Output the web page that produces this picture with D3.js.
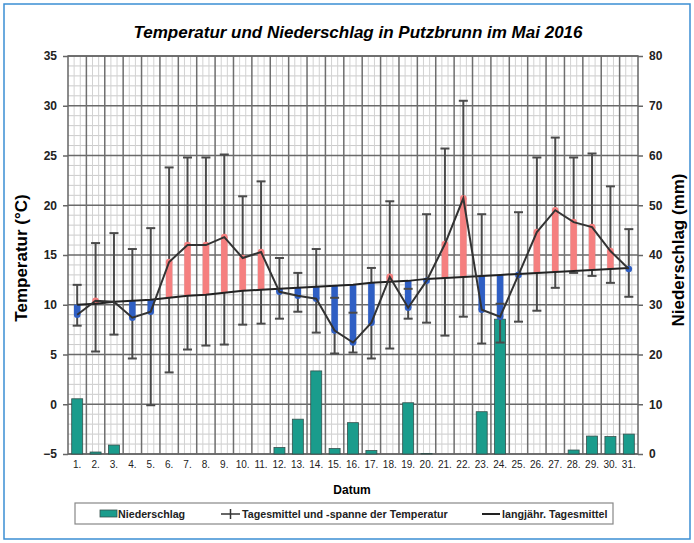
<!DOCTYPE html>
<html>
<head>
<meta charset="utf-8">
<script src="https://cdn.jsdelivr.net/npm/d3@7"></script>
<style>
  body { margin: 0; background: #fff; }
  svg { display: block; font-family: 'Liberation Sans', Arial, sans-serif; }
</style>
</head>
<body>
<svg id="chart" width="694" height="543"></svg>
<script>
// values
const days = d3.range(1, 32);
const tMean = [9.0, 10.4, 10.3, 8.7, 9.3, 14.3, 16.0, 16.0, 16.8, 14.7, 15.3, 11.3, 10.9, 10.6, 7.4, 6.2,
  8.2, 12.8, 9.7, 12.4, 16.1, 20.7, 9.5, 8.8, 13.0, 17.3, 19.5, 18.3, 17.8, 15.4, 13.6];
const tMax = [12.0, 16.2, 17.2, 15.6, 17.7, 23.8, 24.8, 24.8, 25.1, 20.9, 22.4, 14.7, 13.2, 15.6, 10.7, 9.2,
  13.7, 20.4, 11.6, 19.1, 25.7, 30.5, 19.1, 10.1, 19.3, 24.8, 26.8, 24.8, 25.2, 21.9, 17.6];
const tMin = [7.9, 5.3, 7.0, 4.6, -0.1, 3.2, 5.5, 5.9, 6.0, 8.0, 8.1, 8.6, 9.3, 7.2, 5.1, 5.2,
  4.6, 5.6, 8.6, 8.2, 6.9, 8.8, 6.1, 6.2, 8.3, 9.4, 11.7, 13.2, 12.9, 12.2, 10.8];
const tLongTerm = [10.0, 10.1, 10.3, 10.4, 10.5, 10.7, 10.9, 11.0, 11.2, 11.4, 11.5, 11.6, 11.7, 11.8, 11.9, 12.0,
  12.2, 12.3, 12.4, 12.6, 12.7, 12.8, 12.9, 13.0, 13.1, 13.2, 13.3, 13.4, 13.5, 13.6, 13.7];
const rain = [11.1, 0.4, 1.8, 0, 0, 0, 0, 0, 0, 0, 0, 1.3, 7.0, 16.7, 1.1, 6.3,
  0.7, 0, 10.3, 0.1, 0, 0, 8.5, 27.1, 0, 0, 0, 0.8, 3.6, 3.5, 4.0];
const tempTicks = [-5, 0, 5, 10, 15, 20, 25, 30, 35];
const rainTicks = [0, 10, 20, 30, 40, 50, 60, 70, 80];

const rows = days.map((d, i) => ({
  day: d, mean: tMean[i], max: tMax[i], min: tMin[i], lt: tLongTerm[i], rain: rain[i]
}));

const svg = d3.select('#chart');
const pLeft = 68, pRight = 638, pTop = 56, pBottom = 454;

const x = d3.scaleBand().domain(days).range([pLeft, pRight]);
const yT = d3.scaleLinear().domain([-5, 35]).range([pBottom, pTop]);
const yR = d3.scaleLinear().domain([0, 80]).range([pBottom, pTop]);
const bw = x.bandwidth();
const cx = d => x(d) + bw / 2;
const devColor = d => d.mean > d.lt ? '#f57f7f' : '#2f5fc4';

// outer frame
svg.append('rect').attr('x', 4).attr('y', 4).attr('width', 686).attr('height', 535)
  .attr('fill', '#fff').attr('stroke', '#3b8ed3').attr('stroke-width', 1.5);

// title
svg.append('text').attr('x', 358).attr('y', 38).attr('text-anchor', 'middle')
  .style('font-size', '17px').style('font-weight', 'bold').style('font-style', 'italic')
  .text('Temperatur und Niederschlag in Putzbrunn im Mai 2016');

// grid
const grid = svg.append('g');
grid.selectAll('.hmin').data(d3.range(-5, 36, 1).filter(v => v % 5 !== 0)).enter().append('line')
  .attr('x1', pLeft).attr('x2', pRight).attr('y1', d => yT(d)).attr('y2', d => yT(d))
  .attr('stroke', '#cacaca').attr('stroke-width', 1);
const vmin = [];
days.forEach(d => { vmin.push(x(d) + bw / 3, x(d) + 2 * bw / 3); });
grid.selectAll('.vmin').data(vmin).enter().append('line')
  .attr('x1', d => d).attr('x2', d => d).attr('y1', pTop).attr('y2', pBottom)
  .attr('stroke', '#d2d2d2').attr('stroke-width', 1);
grid.selectAll('.hmaj').data(tempTicks).enter().append('line')
  .attr('x1', pLeft).attr('x2', pRight).attr('y1', d => yT(d)).attr('y2', d => yT(d))
  .attr('stroke', '#6a6a6a').attr('stroke-width', 1.5);
grid.selectAll('.vmaj').data(days.slice(1)).enter().append('line')
  .attr('x1', d => x(d)).attr('x2', d => x(d)).attr('y1', pTop).attr('y2', pBottom)
  .attr('stroke', '#6e6e6e').attr('stroke-width', 1.5);
grid.append('rect').attr('x', pLeft).attr('y', pTop).attr('width', pRight - pLeft).attr('height', pBottom - pTop)
  .attr('fill', 'none').attr('stroke', '#666').attr('stroke-width', 1.5);

// precipitation bars
svg.append('g').selectAll('rect').data(rows.filter(r => r.rain > 0)).enter().append('rect')
  .attr('x', d => cx(d.day) - 5.5).attr('width', 11)
  .attr('y', d => yR(d.rain)).attr('height', d => pBottom - yR(d.rain))
  .attr('fill', '#1a9c8c').attr('stroke', '#35504c').attr('stroke-width', 0.8);

// error bar stems
svg.append('g').selectAll('line').data(rows).enter().append('line')
  .attr('x1', d => cx(d.day)).attr('x2', d => cx(d.day))
  .attr('y1', d => yT(d.min)).attr('y2', d => yT(d.max))
  .attr('stroke', '#4a4a4a').attr('stroke-width', 2);

// deviation bars from long-term mean to daily mean
const dev = rows.filter(r => Math.abs(r.mean - r.lt) > 0.05);
svg.append('g').selectAll('line').data(dev).enter().append('line')
  .attr('x1', d => cx(d.day)).attr('x2', d => cx(d.day))
  .attr('y1', d => yT(d.lt)).attr('y2', d => yT(d.mean))
  .attr('stroke', devColor).attr('stroke-width', 6.5);
svg.append('g').selectAll('circle').data(dev).enter().append('circle')
  .attr('cx', d => cx(d.day)).attr('cy', d => yT(d.mean)).attr('r', 3.3)
  .attr('fill', devColor);

// error bar caps
const caps = [];
rows.forEach(r => { caps.push({ day: r.day, v: r.max }, { day: r.day, v: r.min }); });
svg.append('g').selectAll('line').data(caps).enter().append('line')
  .attr('x1', d => cx(d.day) - 4.5).attr('x2', d => cx(d.day) + 4.5)
  .attr('y1', d => yT(d.v)).attr('y2', d => yT(d.v))
  .attr('stroke', '#4a4a4a').attr('stroke-width', 2);

// long-term mean and daily mean lines
const ltLine = d3.line().x(d => cx(d.day)).y(d => yT(d.lt));
const meanLine = d3.line().x(d => cx(d.day)).y(d => yT(d.mean));
svg.append('path').datum(rows).attr('d', ltLine)
  .attr('fill', 'none').attr('stroke', '#222').attr('stroke-width', 2);
svg.append('path').datum(rows).attr('d', meanLine)
  .attr('fill', 'none').attr('stroke', '#333').attr('stroke-width', 2);

// axes
const axL = svg.append('g').attr('transform', `translate(${pLeft},0)`)
  .call(d3.axisLeft(yT).tickValues(tempTicks).tickSize(5).tickPadding(6));
const axR = svg.append('g').attr('transform', `translate(${pRight},0)`)
  .call(d3.axisRight(yR).tickValues(rainTicks).tickSize(5).tickPadding(6));
const axB = svg.append('g').attr('transform', `translate(0,${pBottom})`)
  .call(d3.axisBottom(x).tickFormat(d => d + '.').tickSize(0).tickPadding(7));
[axL, axR, axB].forEach(a => {
  a.select('.domain').remove();
  a.selectAll('line').attr('stroke', '#666').attr('stroke-width', 1.5);
  a.selectAll('text').attr('fill', '#222').style('font-family', "'Liberation Sans', Arial, sans-serif");
});
axL.selectAll('text').style('font-size', '12px').style('font-weight', 'bold');
axR.selectAll('text').style('font-size', '12px').style('font-weight', 'bold');
axB.selectAll('text').style('font-size', '10px');

// axis titles
svg.append('text').attr('transform', 'translate(27,258) rotate(-90)').attr('text-anchor', 'middle')
  .style('font-size', '17px').style('font-weight', 'bold').text('Temperatur (°C)');
svg.append('text').attr('transform', 'translate(684,250) rotate(-90)').attr('text-anchor', 'middle')
  .style('font-size', '17px').style('font-weight', 'bold').text('Niederschlag (mm)');
svg.append('text').attr('x', 352).attr('y', 494).attr('text-anchor', 'middle')
  .style('font-size', '12px').style('font-weight', 'bold').text('Datum');

// legend
const lg = svg.append('g');
lg.append('rect').attr('x', 75).attr('y', 503).attr('width', 538).attr('height', 21)
  .attr('fill', '#fff').attr('stroke', '#888').attr('stroke-width', 1.2);
lg.append('rect').attr('x', 100).attr('y', 510).attr('width', 17).attr('height', 7)
  .attr('fill', '#1a9c8c').attr('stroke', '#35504c').attr('stroke-width', 0.8);
lg.append('text').attr('x', 118).attr('y', 518).text('Niederschlag');
lg.append('line').attr('x1', 221).attr('x2', 240).attr('y1', 514).attr('y2', 514)
  .attr('stroke', '#333').attr('stroke-width', 1.5);
lg.append('line').attr('x1', 230.5).attr('x2', 230.5).attr('y1', 509).attr('y2', 519)
  .attr('stroke', '#333').attr('stroke-width', 1.5);
lg.append('text').attr('x', 242).attr('y', 518).text('Tagesmittel und -spanne der Temperatur');
lg.append('line').attr('x1', 482).attr('x2', 500).attr('y1', 514).attr('y2', 514)
  .attr('stroke', '#222').attr('stroke-width', 2);
lg.append('text').attr('x', 502).attr('y', 518).text('langjähr. Tagesmittel');
lg.selectAll('text').style('font-size', '10.7px').style('font-weight', 'bold').attr('fill', '#222');
</script>
</body>
</html>
